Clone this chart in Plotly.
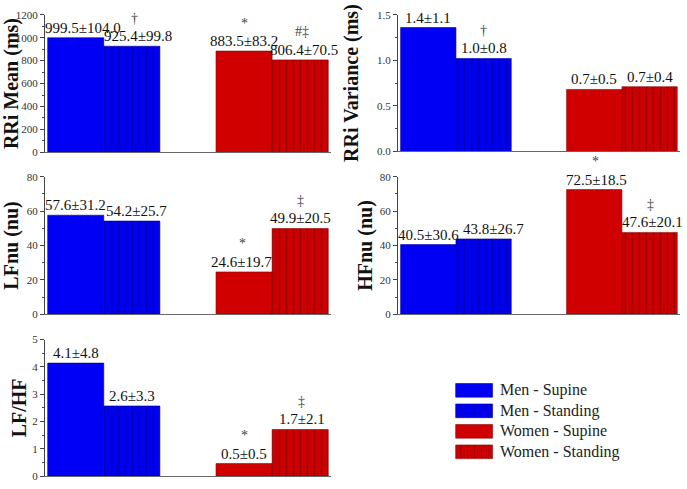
import plotly.graph_objects as go

# ---------------- data ----------------
groups = ["Men - Supine", "Men - Standing", "Women - Supine", "Women - Standing"]

rri_mean = [999.5, 925.4, 883.5, 806.4]
rri_mean_sd = [104.0, 99.8, 83.2, 70.5]
rri_mean_sig = ["", "†", "*", "#‡"]

rri_var = [1.36, 1.02, 0.68, 0.71]
rri_var_sd = [1.1, 0.8, 0.5, 0.4]
rri_var_sig = ["", "†", "", ""]

lfnu = [57.6, 54.2, 24.6, 49.9]
lfnu_sd = [31.2, 25.7, 19.7, 20.5]
lfnu_sig = ["", "", "*", "‡"]

hfnu = [40.5, 43.8, 72.5, 47.6]
hfnu_sd = [30.6, 26.7, 18.5, 20.1]
hfnu_sig = ["", "", "*", "‡"]

lfhf = [4.14, 2.57, 0.46, 1.71]
lfhf_sd = [4.8, 3.3, 0.5, 2.1]
lfhf_sig = ["", "", "*", "‡"]

# ---------------- styling ----------------
W, H = 687, 489
FONT = "Liberation Serif"
base_colors = ["#0000F5", "#0000EE", "#D00000", "#CC0000"]
stripe_colors = ["#0000F5", "#0000B8", "#D00000", "#9A0000"]
line_colors = ["#00009A", "#00009A", "#8A0000", "#8A0000"]
shapes_pat = ["", "|", "", "|"]
xpos = [0, 1, 3, 4]  # bar slots (a gap slot separates the sexes)

def px_x(x0, x1):
    return [x0 / W, x1 / W]

def px_y(top, bottom):
    return [1 - bottom / H, 1 - top / H]

panels = [
    dict(title="RRi Mean (ms)", m=rri_mean, sd=rri_mean_sd, sig=rri_mean_sig,
         rng=[0, 1200], dtick=200, fmt="{:.1f}", xd=px_x(43, 330), yd=px_y(9, 150),
         xs=[7, 6, 0, 4], tickfmt="", so=2),
    dict(title="RRi Variance (ms)", m=rri_var, sd=rri_var_sd, sig=rri_var_sig,
         rng=[0, 1.5], dtick=0.5, fmt="{:.1f}", xd=px_x(397, 680), yd=px_y(9, 149),
         xs=[0, 0, 0, 0], tickfmt=".1f", so=12),
    dict(title="LFnu (nu)", m=lfnu, sd=lfnu_sd, sig=lfnu_sig,
         rng=[0, 80], dtick=20, fmt="{:.1f}", xd=px_x(43, 330), yd=px_y(175, 316),
         xs=[0, 5, -3, 0], tickfmt="", so=2),
    dict(title="HFnu (nu)", m=hfnu, sd=hfnu_sd, sig=hfnu_sig,
         rng=[0, 80], dtick=20, fmt="{:.1f}", xd=px_x(397, 680), yd=px_y(175, 316),
         xs=[0, 10, 2, 3], tickfmt="", so=1),
    dict(title="LF/HF", m=lfhf, sd=lfhf_sd, sig=lfhf_sig,
         rng=[0, 5], dtick=1, fmt="{:.1f}", xd=px_x(43, 330), yd=px_y(342, 482),
         xs=[0, 0, 0, 2], tickfmt="", so=0),
]

fig = go.Figure()
layout = dict(
    width=W, height=H, margin=dict(l=0, r=0, t=0, b=0),
    paper_bgcolor="white", plot_bgcolor="white", showlegend=False,
    font=dict(family=FONT, color="#222"),
)
annotations = []
shapes = []

for i, p in enumerate(panels):
    n = "" if i == 0 else str(i + 1)
    xa, ya = "x" + n, "y" + n
    for j in range(4):
        fig.add_trace(go.Bar(
            x=[xpos[j]], y=[p["m"][j]], width=1, xaxis=xa, yaxis=ya, name=groups[j],
            marker=dict(
                color=base_colors[j],
                line=dict(color=line_colors[j], width=0.6),
                pattern=dict(shape=shapes_pat[j], fgcolor=stripe_colors[j],
                             bgcolor=base_colors[j], size=7, solidity=0.2,
                             fillmode="replace"),
            ),
        ))
    layout["xaxis" + n] = dict(
        domain=p["xd"], anchor=ya, range=[-0.55, 4.55], showticklabels=False,
        ticks="", showline=True, linecolor="#666", linewidth=1, showgrid=False,
        zeroline=False, fixedrange=True,
    )
    layout["yaxis" + n] = dict(
        domain=p["yd"], anchor=xa, range=p["rng"], dtick=p["dtick"], tick0=0,
        tickformat=p["tickfmt"], ticks="outside", ticklen=4, tickwidth=1, tickcolor="#444",
        minor=dict(ticks="outside", ticklen=2, tickcolor="#444", dtick=p["dtick"] / 2),
        showline=True, linecolor="#444", linewidth=1, showgrid=False, zeroline=False,
        tickfont=dict(family=FONT, size=11, color="#333"),
        title=dict(text="<b>" + p["title"] + "</b>", font=dict(family=FONT, size=20, color="#111"),
                   standoff=p["so"]),
        fixedrange=True,
    )
    for j in range(4):
        annotations.append(dict(
            x=xpos[j], y=p["m"][j], xref=xa, yref=ya,
            text=p["fmt"].format(p["m"][j]) + "±" + p["fmt"].format(p["sd"][j]),
            showarrow=False, yanchor="bottom", xshift=p["xs"][j], yshift=0,
            font=dict(family=FONT, size=15, color="#111"),
        ))
        if p["sig"][j]:
            annotations.append(dict(
                x=xpos[j], y=p["m"][j], xref=xa, yref=ya, text=p["sig"][j],
                showarrow=False, yanchor="middle", yshift=28, xshift=p["xs"][j] // 2,
                font=dict(family=FONT, size=14, color="#444"),
            ))

# legend drawn as large swatches
for k, g in enumerate(groups):
    top = 387 + 21 * k
    shapes.append(dict(
        type="rect", xref="paper", yref="paper",
        x0=455 / W, x1=492 / W, y0=1 - (top + 14) / H, y1=1 - top / H,
        fillcolor=base_colors[k], line=dict(color=line_colors[k], width=0.6),
    ))
    if shapes_pat[k]:
        for s in range(5):
            xx = (460 + 7 * s) / W
            shapes.append(dict(
                type="line", xref="paper", yref="paper", x0=xx, x1=xx,
                y0=1 - (top + 14) / H, y1=1 - top / H,
                line=dict(color=stripe_colors[k], width=0.8),
            ))
    annotations.append(dict(
        x=497 / W, y=1 - (top + 7) / H, xref="paper", yref="paper", text=g,
        showarrow=False, xanchor="left", yanchor="middle",
        font=dict(family=FONT, size=16, color="#222"),
    ))

layout["annotations"] = annotations
layout["shapes"] = shapes
fig.update_layout(**layout)
fig.write_html("out.html")
